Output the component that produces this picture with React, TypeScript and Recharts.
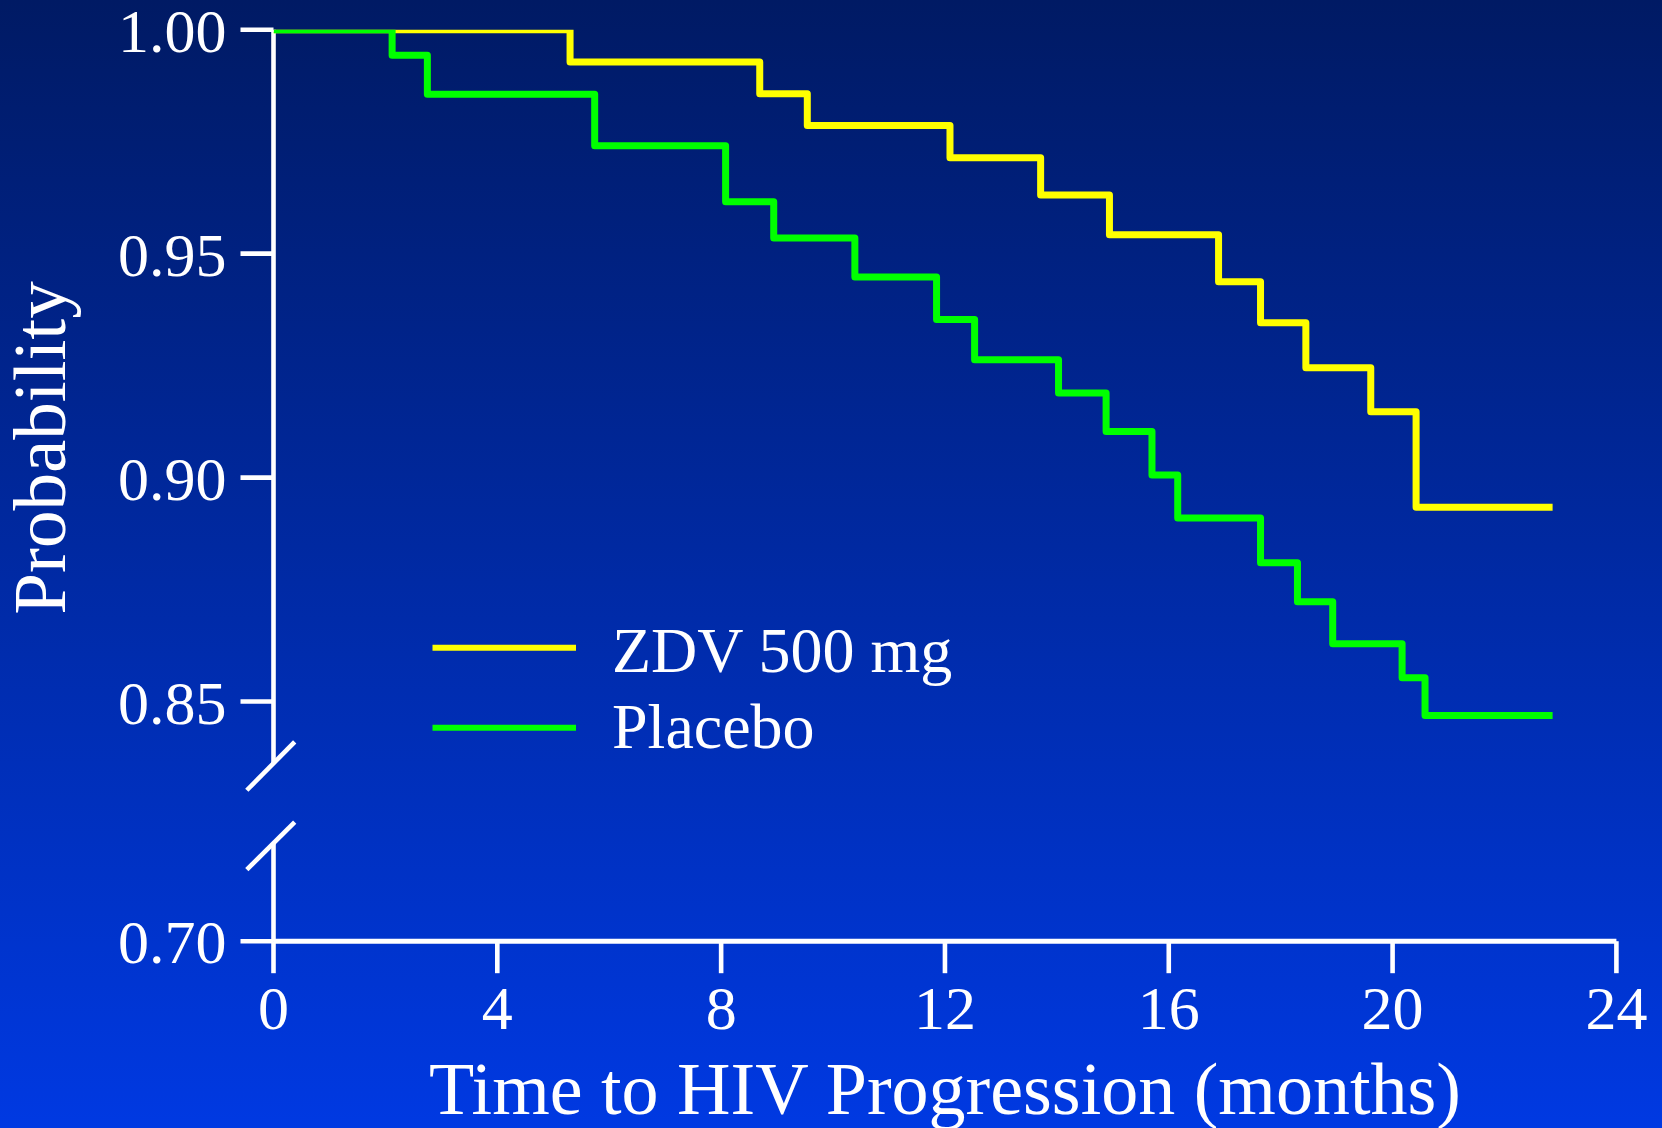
import React from 'react';
import { LineChart, Line, XAxis, YAxis, ReferenceLine, Legend } from 'recharts';

// ---- tick labels ----
const xTicks = [0, 4, 8, 12, 16, 20, 24];
const yTickValues = [0.7, 0.85, 0.9, 0.95, 1.0];

// ---- series names / colours ----
const seriesNames = ['ZDV 500 mg', 'Placebo'];
const seriesColors = ['#ffff00', '#00ff00'];

// ---- ZDV 500 mg (Kaplan-Meier steps) ----
const zdvMonths = [0, 5.3, 8.69, 9.54, 12.09, 13.71, 14.94, 16.89, 17.64, 18.45, 19.61, 20.42, 22.86];
const zdvProb = [1.0, 0.9928, 0.9857, 0.9786, 0.9714, 0.9631, 0.9542, 0.9437, 0.9346, 0.9245, 0.9147, 0.8934, 0.8934];

// ---- Placebo ----
const placeboMonths = [0, 2.12, 2.75, 5.74, 8.08, 8.94, 10.39, 11.85, 12.53, 14.03, 14.88, 15.7, 16.16, 17.64, 18.3, 18.93, 20.17, 20.58, 22.86];
const placeboProb = [1.0, 0.9943, 0.9856, 0.9741, 0.9616, 0.9535, 0.9448, 0.9353, 0.9263, 0.9189, 0.9103, 0.9006, 0.891, 0.881, 0.8723, 0.8629, 0.8553, 0.8469, 0.8469];

// broken axis: the 0.70 tick is drawn just below 0.85
const Y_BOTTOM = 0.7965;
const toAxis = (v: number) => (v >= 0.8 ? v : Y_BOTTOM + (v - 0.7));
const yTicks = yTickValues.map(toAxis);
const formatY = (v: number) => {
  const i = yTicks.findIndex((t) => Math.abs(t - v) < 1e-6);
  return i >= 0 ? yTickValues[i].toFixed(2) : v.toFixed(2);
};

const zdvData = zdvMonths.map((t, i) => ({ t, p: zdvProb[i] }));
const placeboData = placeboMonths.map((t, i) => ({ t, p: placeboProb[i] }));

const AXIS_W = 4.6;

const YLabel = () => (
  <text
    x={65}
    y={448}
    transform="rotate(-90, 65, 448)"
    textAnchor="middle"
    fill="#ffffff"
    fontSize={75}
  >
    Probability
  </text>
);

const LegendContent = (props: any) => {
  const payload = [...(props.payload || [])].sort(
    (a: any, b: any) => seriesNames.indexOf(a.value) - seriesNames.indexOf(b.value)
  );
  return (
    <svg width={560} height={180} style={{ overflow: 'visible' }}>
      {payload.map((entry: any, i: number) => (
        <g key={i}>
          <line x1={12.5} x2={156} y1={47.7 + i * 80} y2={47.7 + i * 80} stroke={entry.color} strokeWidth={6} />
          <text x={192} y={71.7 + i * 76.6} fill="#ffffff" fontSize={64}>
            {entry.value}
          </text>
        </g>
      ))}
    </svg>
  );
};

export default function App() {
  return (
    <div
      style={{
        position: 'absolute',
        left: 0,
        top: 0,
        width: 1662,
        height: 1128,
        background: 'linear-gradient(to bottom, #001a64, #0039e2)',
        fontFamily: '"Liberation Serif", "Times New Roman", serif',
        overflow: 'hidden',
      }}
    >
      <LineChart width={1662} height={1128} margin={{ top: 29.7, right: 45.6, bottom: 0, left: 0 }}>
        <XAxis
          type="number"
          dataKey="t"
          domain={[0, 24]}
          ticks={xTicks}
          interval={0}
          allowDataOverflow
          axisLine={{ stroke: '#ffffff', strokeWidth: 5 }}
          tickLine={{ stroke: '#ffffff', strokeWidth: AXIS_W }}
          tickSize={32}
          tickMargin={12}
          tick={{ fill: '#ffffff', fontSize: 62 }}
          height={186.8}
          label={{
            value: 'Time to HIV Progression (months)',
            position: 'insideBottom',
            offset: 14,
            fill: '#ffffff',
            fontSize: 74,
          }}
        />
        <YAxis
          type="number"
          domain={[Y_BOTTOM, 1]}
          ticks={yTicks}
          interval={0}
          allowDataOverflow
          tickFormatter={formatY}
          axisLine={false}
          tickLine={{ stroke: '#ffffff', strokeWidth: AXIS_W }}
          tickSize={33}
          tickMargin={14}
          tick={{ fill: '#ffffff', fontSize: 62 }}
          width={273.5}
          label={YLabel}
        />
        {/* broken y axis */}
        <ReferenceLine segment={[{ x: 0, y: 1 }, { x: 0, y: 0.8362 }]} stroke="#ffffff" strokeWidth={AXIS_W} ifOverflow="visible" />
        <ReferenceLine segment={[{ x: 0, y: 0.8184 }, { x: 0, y: Y_BOTTOM }]} stroke="#ffffff" strokeWidth={AXIS_W} ifOverflow="visible" />
        <ReferenceLine segment={[{ x: -0.477, y: 0.8302 }, { x: 0.379, y: 0.841 }]} stroke="#ffffff" strokeWidth={AXIS_W} ifOverflow="visible" />
        <ReferenceLine segment={[{ x: -0.477, y: 0.8125 }, { x: 0.379, y: 0.8231 }]} stroke="#ffffff" strokeWidth={AXIS_W} ifOverflow="visible" />
        <Line
          data={zdvData}
          dataKey="p"
          name={seriesNames[0]}
          type="stepAfter"
          stroke={seriesColors[0]}
          strokeWidth={7}
          strokeLinejoin="round"
          dot={false}
          activeDot={false}
          isAnimationActive={false}
        />
        <Line
          data={placeboData}
          dataKey="p"
          name={seriesNames[1]}
          type="stepAfter"
          stroke={seriesColors[1]}
          strokeWidth={7}
          strokeLinejoin="round"
          dot={false}
          activeDot={false}
          isAnimationActive={false}
        />
        <Legend
          layout="vertical"
          align="center"
          verticalAlign="middle"
          content={LegendContent}
          wrapperStyle={{ left: 420, top: 600, width: 560, height: 180 }}
        />
      </LineChart>
    </div>
  );
}
